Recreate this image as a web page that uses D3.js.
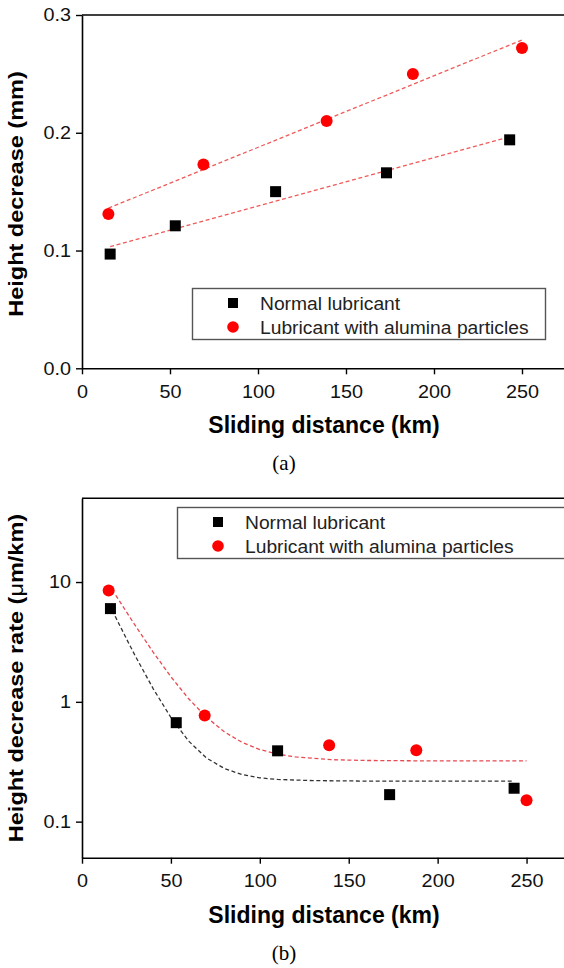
<!DOCTYPE html>
<html>
<head>
<meta charset="utf-8">
<script src="https://cdn.jsdelivr.net/npm/d3@7"></script>
<style>
body	{margin:0;background:#fff;}
svg	{display:block;}
text	{font-family:"Liberation Sans",Arial,sans-serif;fill:#000;}
</style>
</head>
<body>
<svg id="fig" width="564" height="968"></svg>
<script>
// sliding distance (km) of each measurement
var	distNormal	= [16, 53, 110, 173, 243],
	distAlumina	= [15, 69, 139, 188, 250];
// (a) height decrease (mm)
var	heightNormal	= [0.097, 0.121, 0.150, 0.166, 0.194],
	heightAlumina	= [0.131, 0.173, 0.210, 0.250, 0.272];
// (b) height decrease rate (um/km)
var	rateNormal	= [6.0, 0.67, 0.39, 0.168, 0.19],
	rateAlumina	= [8.5, 0.77, 0.435, 0.395, 0.151];
// (b) decay fit curves
var	fitNormalX	= [17, 25, 30, 40, 50, 60, 70, 80, 90, 100, 110, 130, 160, 243],
	fitNormalY	= [5.8, 3.36, 2.41, 1.29, 0.74, 0.47, 0.34, 0.278, 0.247, 0.232, 0.225, 0.22, 0.218, 0.218],
	fitAluminaX	= [19, 25, 30, 40, 50, 60, 70, 80, 90, 100, 110, 120, 140, 160, 200, 250],
	fitAluminaY	= [7.75, 5.63, 4.33, 2.6, 1.62, 1.06, 0.744, 0.562, 0.459, 0.40, 0.366, 0.347, 0.329, 0.324, 0.321, 0.321];
// ticks and labels
var	distTicks	= [0, 50, 100, 150, 200, 250],
	distMinor	= [25, 75, 125, 175, 225, 275],
	heightTicks	= [0.0, 0.1, 0.2, 0.3],
	heightMinor	= [0.05, 0.15, 0.25],
	rateTicks	= [0.1, 1, 10],
	seriesNames	= ["Normal lubricant", "Lubricant with alumina particles"];

var svg = d3.select("#fig");

function pairs(xs, ys) { return xs.map(function(d, i) { return [d, ys[i]]; }); }

function linFit(xs, ys) {
	var mx = d3.mean(xs), my = d3.mean(ys), sxx = 0, sxy = 0;
	xs.forEach(function(d, i) { sxx += (d-mx)*(d-mx); sxy += (d-mx)*(ys[i]-my); });
	var b = sxy/sxx, a = my - b*mx, ext = d3.extent(xs);
	return [[ext[0], a + b*ext[0]], [ext[1], a + b*ext[1]]];
}

// the scan is a little wider than the fonts we have
function widen(sel, k) {
	sel.each(function() {
		var t = d3.select(this);
		t.attr("textLength", this.getComputedTextLength()*k).attr("lengthAdjust", "spacingAndGlyphs");
	});
}

function drawPanel(p) {
	var	x	= d3.scaleLinear().domain([0, 275]).range(p.xRange),
		y	= (p.log ? d3.scaleLog() : d3.scaleLinear()).domain(p.yDomain).range(p.yRange),
		g	= svg.append("g"),
		line	= d3.line().x(function(d) { return x(d[0]); }).y(function(d) { return y(d[1]); });

	// top frame
	g.append("line").attr("x1", p.xRange[0]).attr("x2", p.xRange[1])
		.attr("y1", p.yRange[1]).attr("y2", p.yRange[1])
		.attr("stroke", "#000").attr("stroke-width", 1.6);

	var xa = g.append("g").attr("transform", "translate(0," + p.yRange[0] + ")");
	xa.call(d3.axisBottom(x).tickValues(distMinor).tickSize(3).tickSizeOuter(0).tickFormat(""));
	xa.call(d3.axisBottom(x).tickValues(distTicks).tickSize(6).tickSizeOuter(0).tickPadding(11).tickFormat(d3.format("d")));

	var ya = g.append("g").attr("transform", "translate(" + p.xRange[0] + ",0)"),
		minorY = p.log ? y.ticks().filter(function(d) { return p.yTicks.indexOf(d) < 0; }) : p.yMinor;
	ya.call(d3.axisLeft(y).tickValues(minorY).tickSize(3).tickSizeOuter(0).tickFormat(""));
	ya.call(d3.axisLeft(y).tickValues(p.yTicks).tickSize(6).tickSizeOuter(0).tickPadding(5).tickFormat(p.yFormat));

	g.selectAll(".domain").attr("stroke-width", 1.6);
	g.selectAll(".tick line").attr("stroke-width", 1.4);
	g.selectAll(".tick text").style("font-size", "18px").style("fill", "#111").call(widen, 1.1);

	// fits
	p.fits.forEach(function(f) {
		g.append("path").attr("d", line(f.pts)).attr("fill", "none")
			.attr("stroke", f.color).attr("stroke-width", 1.3).attr("stroke-dasharray", "4,2.6");
	});

	// points
	g.selectAll(".sq").data(pairs(distNormal, p.normal)).enter().append("rect")
		.attr("x", function(d) { return x(d[0]) - 5.5; }).attr("y", function(d) { return y(d[1]) - 5.5; })
		.attr("width", 11).attr("height", 11).attr("fill", "#000");
	g.selectAll(".ci").data(pairs(distAlumina, p.alumina)).enter().append("circle")
		.attr("cx", function(d) { return x(d[0]); }).attr("cy", function(d) { return y(d[1]); })
		.attr("r", 6).attr("fill", "#ff0000");

	// legend
	var lg = g.append("g").attr("transform", "translate(" + p.legend[0] + "," + p.legend[1] + ")");
	lg.append("rect").attr("x", 0.5).attr("y", 0.5).attr("width", p.legend[2]).attr("height", 51)
		.attr("fill", "#fff").attr("stroke", "#555").attr("stroke-width", 1.4);
	lg.append("rect").attr("x", 36).attr("y", 10).attr("width", 10).attr("height", 10).attr("fill", "#000");
	lg.append("circle").attr("cx", 41).attr("cy", 39).attr("r", 5.8).attr("fill", "#ff0000");
	lg.selectAll(".lt").data(seriesNames).enter().append("text")
		.attr("x", 68).attr("y", function(d, i) { return 22 + i*23.5; })
		.style("font-size", "17.5px").style("fill", "#222").text(function(d) { return d; })
		.call(widen, 1.1);

	// titles
	g.append("text").attr("x", 324).attr("y", p.xTitleY).attr("text-anchor", "middle")
		.style("font-size", "23px").style("font-weight", "bold").text("Sliding distance (km)");
	var yt = g.append("text").attr("transform", "translate(23," + p.yTitleY + ") rotate(-90) scale(1.12,1)")
		.attr("text-anchor", "middle").style("font-size", "21px").style("font-weight", "bold");
	p.yTitle(yt);

	g.append("text").attr("x", p.capX).attr("y", p.capY).attr("text-anchor", "middle")
		.style("font-family", "'Liberation Serif','Times New Roman',serif").style("font-size", "21px")
		.text(p.caption);
}

drawPanel({
	xRange: [82, 566], yRange: [368.3, 15], yDomain: [0, 0.3], log: false,
	yTicks: heightTicks, yMinor: heightMinor, yFormat: d3.format(".1f"),
	normal: heightNormal, alumina: heightAlumina,
	fits: [
		{pts: linFit(distNormal, heightNormal), color: "#ef5a5a"},
		{pts: linFit(distAlumina, heightAlumina), color: "#ef5a5a"}
	],
	legend: [192, 288, 353],
	xTitleY: 433, yTitleY: 194,
	yTitle: function(t) { t.text("Height decrease (mm)"); },
	capX: 284, capY: 470, caption: "(a)"
});

drawPanel({
	xRange: [82, 571], yRange: [857.7, 498.3], yDomain: [0.05, 50], log: true,
	yTicks: rateTicks, yFormat: function(d) { return d3.format("~g")(d); },
	normal: rateNormal, alumina: rateAlumina,
	fits: [
		{pts: pairs(fitNormalX, fitNormalY), color: "#333"},
		{pts: pairs(fitAluminaX, fitAluminaY), color: "#e84a52"}
	],
	legend: [177, 507, 400],
	xTitleY: 923, yTitleY: 678,
	yTitle: function(t) {
		t.append("tspan").text("Height decrease rate (");
		t.append("tspan").style("font-weight", "normal").text("\u03bc");
		t.append("tspan").text("m/km)");
	},
	capX: 284, capY: 960, caption: "(b)"
});
</script>
</body>
</html>
